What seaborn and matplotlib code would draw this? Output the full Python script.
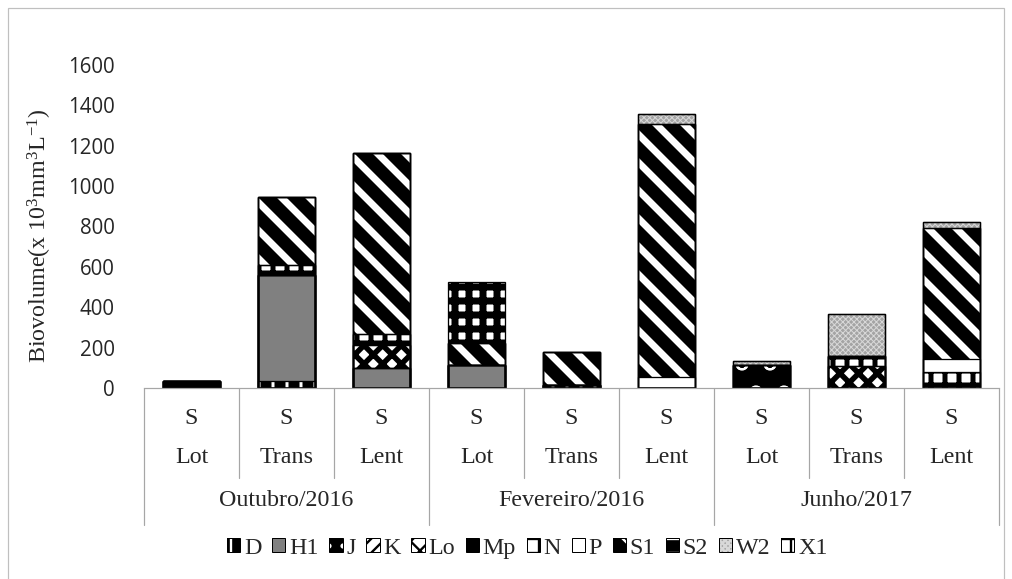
import numpy as np
import seaborn as sns
import matplotlib.pyplot as plt
from matplotlib.patches import Patch, Rectangle
from matplotlib.legend_handler import HandlerTuple
from matplotlib.transforms import blended_transform_factory

# functional groups, stacking order bottom -> top
groups = ['D', 'H1', 'J', 'K', 'Lo', 'Mp', 'N', 'P', 'S1', 'S2', 'W2', 'X1']
campaigns = ['Outubro/2016', 'Fevereiro/2016', 'Junho/2017']
sectors = ['Lot', 'Trans', 'Lent']
season = 'S'

# biovolume per site (Out Lot, Out Trans, Out Lent, Fev ..., Jun ...)
D = [0, 35, 0, 0, 15, 0, 0, 0, 0]
H1 = [0, 525, 100, 115, 0, 0, 0, 0, 0]
J = [33, 0, 0, 0, 0, 0, 0, 0, 0]
K = [0, 0, 0, 0, 0, 0, 0, 0, 0]
Lo = [0, 0, 113, 0, 0, 0, 0, 108, 0]
Mp = [0, 0, 0, 0, 0, 0, 112, 0, 0]
N = [0, 50, 55, 0, 0, 0, 0, 52, 78]
P = [0, 0, 0, 0, 0, 55, 0, 0, 65]
S1 = [0, 336, 896, 110, 163, 1253, 0, 0, 652]
S2 = [0, 0, 0, 0, 0, 0, 0, 0, 0]
W2 = [0, 0, 0, 0, 0, 49, 20, 206, 28]
X1 = [0, 0, 0, 300, 0, 0, 0, 0, 0]

yticks = [0, 200, 400, 600, 800, 1000, 1200, 1400, 1600]

DPI = 168
W, H = 1012, 579


def pt(px):
    return px * 72 / DPI


# face, hatch, hatch colour, hatch line width (px)
styles = {
    'D': ('black', '||', 'white', 3),
    'H1': ('#808080', None, '#808080', 1),
    'J': ('black', '..', 'white', 1.5),
    'K': ('white', '////', 'black', 3),
    'Lo': ('white', 'xxx', 'black', 5.5),
    'Mp': ('black', 'o', 'white', 2),
    'N': ('white', '++', 'black', 5),
    'P': ('white', None, 'white', 1),
    'S1': ('black', '\\\\', 'white', 7),
    'S2': ('black', '--', 'white', 3),
    'W2': ('#a4a4a4', 'xxxxxxxxxx', '#d8d8d8', 1),
    'X1': ('white', '++', 'black', 7),
}

sns.set_style('white')
plt.rcParams['font.family'] = ['Liberation Serif', 'DejaVu Serif']
plt.rcParams['mathtext.default'] = 'regular'
SERIF = 10.3
SANS = 8.8

values = np.array([D, H1, J, K, Lo, Mp, N, P, S1, S2, W2, X1], dtype=float)
cum = values.cumsum(axis=0)
site_ids = [f'{c}-{s}' for c in campaigns for s in sectors]

fig = plt.figure(figsize=(W / DPI, H / DPI), dpi=DPI)
ax = fig.add_axes([144 / W, 1 - 388 / H, 855 / W, 323 / H])

# patterned fills, tallest cumulative first so lower ones overdraw
for k in range(len(groups) - 1, -1, -1):
    face, hatch, hcol, hlw = styles[groups[k]]
    n0 = len(ax.patches)
    with plt.rc_context({'hatch.linewidth': pt(hlw)}):
        sns.barplot(x=site_ids, y=cum[k], order=site_ids, width=0.59,
                    color=face, saturation=1, edgecolor=hcol, linewidth=0,
                    hatch=hatch, errorbar=None, ax=ax)
    for p in ax.patches[n0:]:
        if hasattr(p, 'set_hatch_linewidth'):
            p.set_hatch_linewidth(pt(hlw))

# segment outlines
for k in range(len(groups)):
    sns.barplot(x=site_ids, y=cum[k], order=site_ids, width=0.59, fill=False,
                color='black', linewidth=pt(1.3), errorbar=None, ax=ax)

ax.set_xlim(-0.5, len(site_ids) - 0.5)
ax.set_ylim(0, 1600)
ax.set_yticks(yticks)
ax.set_yticklabels([str(v) for v in yticks], fontfamily='Open Sans', fontsize=SANS)
ax.tick_params(axis='y', length=0, pad=pt(29))
ax.set_xticks([])
ax.set_xlabel('')
for side in ['left', 'right', 'top']:
    ax.spines[side].set_visible(False)
ax.spines['bottom'].set_color('#a6a6a6')
ax.spines['bottom'].set_linewidth(pt(1.2))

ax.set_ylabel(r'Biovolume(x 10$^{3}$mm$^{3}$L$^{-1}$)', fontsize=SERIF)
ax.yaxis.set_label_coords(-0.105, 0.47)

# multi-level category axis
trans = blended_transform_factory(ax.transData, ax.transAxes)
for i, sid in enumerate(site_ids):
    ax.text(i, -0.093, season, transform=trans, ha='center', va='center', fontsize=SERIF)
    ax.text(i, -0.214, sectors[i % 3], transform=trans, ha='center', va='center', fontsize=SERIF)
for g, camp in enumerate(campaigns):
    ax.text(3 * g + 1, -0.347, camp, transform=trans, ha='center', va='center', fontsize=SERIF)
for i in range(len(site_ids) + 1):
    y1 = -0.424 if i % 3 == 0 else -0.279
    ax.plot([i - 0.5, i - 0.5], [0, y1], transform=trans, clip_on=False,
            color='#a6a6a6', lw=pt(1.2))

# legend
handles = []
for g in groups:
    face, hatch, hcol, hlw = styles[g]
    fill_patch = Patch(facecolor=face, edgecolor=hcol, hatch=hatch, linewidth=0)
    if hasattr(fill_patch, 'set_hatch_linewidth'):
        fill_patch.set_hatch_linewidth(pt(min(hlw, 3)))
    handles.append((fill_patch,
                    Patch(facecolor='none', edgecolor='black', linewidth=pt(1))))
fig.legend(handles, groups, handler_map={tuple: HandlerTuple(ndivide=1, pad=0)},
           loc='center', bbox_to_anchor=(0.521, 0.0535), ncol=len(groups), frameon=False,
           handlelength=0.55, handleheight=0.55, handletextpad=0.15, columnspacing=0.45,
           prop={'family': 'Liberation Serif', 'size': SERIF})

# chart area border
fig.add_artist(Rectangle((8 / W, -0.1), 996 / W, 1.1 - 8 / H, transform=fig.transFigure,
                         fill=False, edgecolor='#bfbfbf', lw=pt(1.2)))

fig.savefig('out.png', dpi=DPI)
